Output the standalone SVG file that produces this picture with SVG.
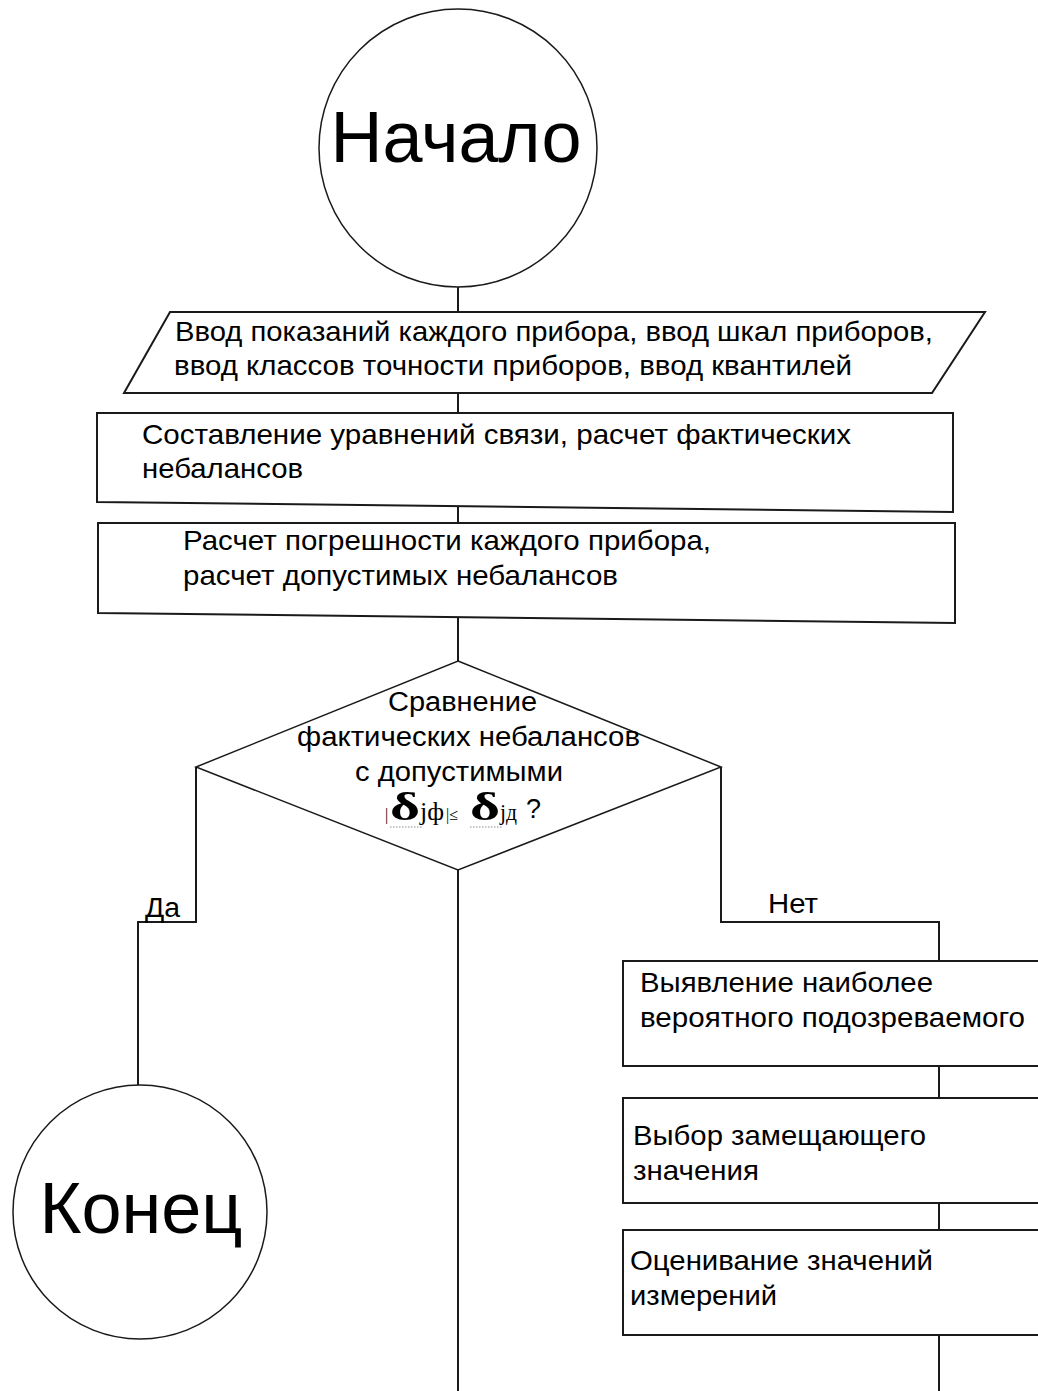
<svg xmlns="http://www.w3.org/2000/svg" width="1038" height="1391" viewBox="0 0 1038 1391">
<style>
.s{fill:#fff;stroke:#1a1a1a;stroke-width:2}
.c{fill:none;stroke:#1a1a1a;stroke-width:2}
.t{font-family:"Liberation Sans",Arial,sans-serif;font-size:28px;fill:#000}
.d{font-family:"Liberation Sans",Arial,sans-serif;font-size:27px;fill:#000}
.big{font-family:"Liberation Sans",Arial,sans-serif;font-size:72px;fill:#000;text-anchor:middle}
.m{font-family:"Liberation Serif","Times New Roman",serif;fill:#000}
.u{stroke:#8a8a8a;stroke-width:1;stroke-dasharray:1.5,1.5}
</style>
<rect width="1038" height="1391" fill="#fff"/>
<g id="connectors">
<line class="c" x1="458" y1="283" x2="458" y2="312"/>
<line class="c" x1="458" y1="393" x2="458" y2="413"/>
<line class="c" x1="458" y1="507" x2="458" y2="523"/>
<line class="c" x1="458" y1="618" x2="458" y2="661"/>
<line class="c" x1="458" y1="870" x2="458" y2="1391"/>
<polyline class="c" points="196,767 196,922 138,922 138,1085"/>
<polyline class="c" points="721,767 721,922 939,922 939,961"/>
<line class="c" x1="939" y1="1066" x2="939" y2="1098"/>
<line class="c" x1="939" y1="1203" x2="939" y2="1230"/>
<line class="c" x1="939" y1="1335" x2="939" y2="1391"/>
<text class="d" x="145" y="917" textLength="35" lengthAdjust="spacingAndGlyphs">Да</text>
<text class="d" x="768" y="913" textLength="50" lengthAdjust="spacingAndGlyphs">Нет</text>
</g>
<g id="start">
<circle cx="458" cy="148" r="139" fill="#fff" stroke="#1a1a1a" stroke-width="1.5"/>
<text class="big" x="456" y="162">Начало</text>
</g>
<g id="input">
<polygon class="s" points="170,312 985,312 932,393 124,393"/>
<text class="t" x="175" y="341" textLength="758" lengthAdjust="spacingAndGlyphs">Ввод показаний каждого прибора, ввод шкал приборов,</text>
<text class="t" x="174" y="375" textLength="678" lengthAdjust="spacingAndGlyphs">ввод классов точности приборов, ввод квантилей</text>
</g>
<g id="proc1">
<polygon class="s" points="97,413 953,413 953,512 97,502"/>
<text class="t" x="142" y="444" textLength="709" lengthAdjust="spacingAndGlyphs">Составление уравнений связи, расчет фактических</text>
<text class="t" x="142" y="478" textLength="161" lengthAdjust="spacingAndGlyphs">небалансов</text>
</g>
<g id="proc2">
<polygon class="s" points="98,523 955,523 955,623 98,613"/>
<text class="t" x="183" y="550" textLength="528" lengthAdjust="spacingAndGlyphs">Расчет погрешности каждого прибора,</text>
<text class="t" x="183" y="585" textLength="435" lengthAdjust="spacingAndGlyphs">расчет допустимых небалансов</text>
</g>
<g id="decision">
<polygon fill="#fff" stroke="#1a1a1a" stroke-width="1.5" points="458,661 721,767 458,870 196,767"/>
<text class="d" x="388" y="711" textLength="149" lengthAdjust="spacingAndGlyphs">Сравнение</text>
<text class="d" x="297" y="746" textLength="343" lengthAdjust="spacingAndGlyphs">фактических небалансов</text>
<text class="d" x="355" y="781" textLength="208" lengthAdjust="spacingAndGlyphs">с допустимыми</text>
<text class="m" x="385" y="820" font-size="16">|</text>
<text class="m" x="390" y="820" font-size="40" font-weight="bold" textLength="30" lengthAdjust="spacingAndGlyphs">δ</text>
<text class="m" x="420" y="820" font-size="26" textLength="24" lengthAdjust="spacingAndGlyphs">jф</text>
<text class="m" x="446" y="820" font-size="16">|≤</text>
<text class="m" x="470" y="820" font-size="40" font-weight="bold" textLength="30" lengthAdjust="spacingAndGlyphs">δ</text>
<text class="m" x="500" y="820" font-size="24" textLength="17" lengthAdjust="spacingAndGlyphs">jд</text>
<text class="d" x="526" y="818">?</text>
<line class="u" x1="390" y1="827" x2="422" y2="827"/>
<line class="u" x1="470" y1="827" x2="502" y2="827"/>
</g>
<g id="end">
<circle cx="140" cy="1212" r="127" fill="#fff" stroke="#1a1a1a" stroke-width="1.5"/>
<text class="big" x="141" y="1233">Конец</text>
</g>
<g id="proc3">
<rect class="s" x="623" y="961" width="430" height="105"/>
<text class="t" x="640" y="992" textLength="293" lengthAdjust="spacingAndGlyphs">Выявление наиболее</text>
<text class="t" x="640" y="1027" textLength="385" lengthAdjust="spacingAndGlyphs">вероятного подозреваемого</text>
</g>
<g id="proc4">
<rect class="s" x="623" y="1098" width="430" height="105"/>
<text class="t" x="633" y="1145" textLength="293" lengthAdjust="spacingAndGlyphs">Выбор замещающего</text>
<text class="t" x="633" y="1180" textLength="126" lengthAdjust="spacingAndGlyphs">значения</text>
</g>
<g id="proc5">
<rect class="s" x="623" y="1230" width="430" height="105"/>
<text class="t" x="630" y="1270" textLength="303" lengthAdjust="spacingAndGlyphs">Оценивание значений</text>
<text class="t" x="630" y="1305" textLength="147" lengthAdjust="spacingAndGlyphs">измерений</text>
</g>
</svg>
